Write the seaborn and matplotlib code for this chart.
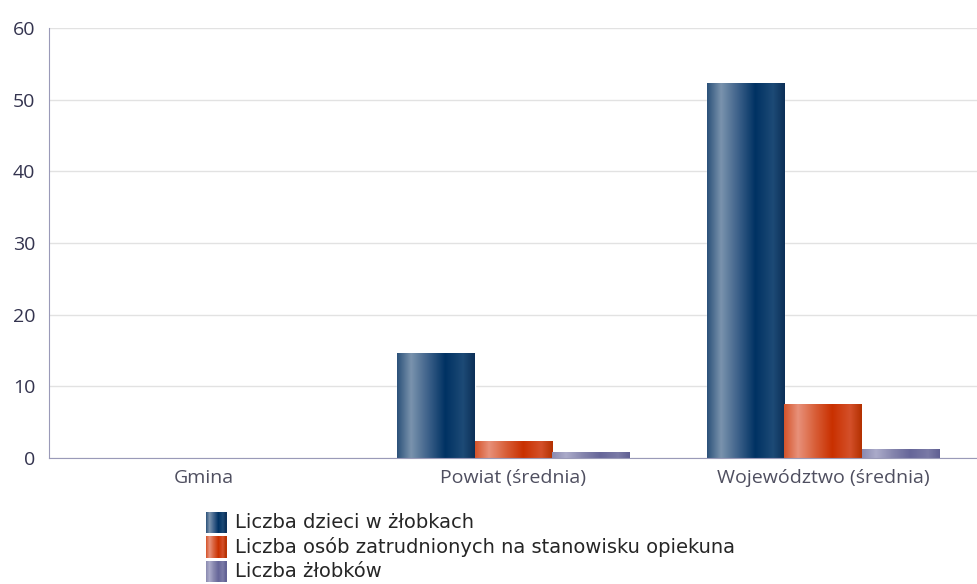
import numpy as np
import pandas as pd
import matplotlib
matplotlib.use('Agg')
import matplotlib.pyplot as plt
from matplotlib.colors import LinearSegmentedColormap
from matplotlib.patches import Rectangle
from matplotlib.legend_handler import HandlerBase
import seaborn as sns

# Data
categories = ['Gmina', 'Powiat (średnia)', 'Województwo (średnia)']
series_names = ['Liczba dzieci w żłobkach',
                'Liczba osób zatrudnionych na stanowisku opiekuna',
                'Liczba żłobków']
dzieci = [0, 14.6, 52.3]
opiekunowie = [0, 2.3, 7.4]
zlobki = [0, 0.7, 1.2]

df = pd.DataFrame({
    'kategoria': categories * 3,
    'seria': [series_names[0]] * 3 + [series_names[1]] * 3 + [series_names[2]] * 3,
    'wartosc': dzieci + opiekunowie + zlobki,
})

# gradient stops for each series (left -> right across the bar)
stops = {
    series_names[0]: ['#2b5179', '#7a93ad', '#3d618a', '#003263', '#1d4a76', '#0b2f57'],
    series_names[1]: ['#d4532a', '#e8917a', '#d85e38', '#c93000', '#d4502a', '#b33000'],
    series_names[2]: ['#8a8ab0', '#ababca', '#8585ad', '#666699', '#7a7aa6', '#5f5f92'],
}
pos = [0.0, 0.18, 0.4, 0.62, 0.85, 1.0]
cmaps = {k: LinearSegmentedColormap.from_list(k, list(zip(pos, v))) for k, v in stops.items()}
base = {k: v[3] for k, v in stops.items()}

sns.set_style('white')
plt.rcParams['font.family'] = ['DejaVu Sans']

fig = plt.figure(figsize=(9.78, 5.84), dpi=100)
ax = fig.add_axes([49 / 978, 126 / 584, 929 / 978, 430 / 584])

sns.barplot(data=df, x='kategoria', y='wartosc', hue='seria', hue_order=series_names,
            palette=base, width=0.75, ax=ax, legend=False, saturation=1)

grad = np.linspace(0, 1, 256).reshape(1, -1)
for name, cont in zip(series_names, ax.containers):
    for p in cont:
        h = p.get_height()
        if h <= 0:
            continue
        x0 = p.get_x()
        w = p.get_width()
        ax.imshow(grad, extent=[x0, x0 + w, 0, h], aspect='auto', cmap=cmaps[name],
                  zorder=p.get_zorder() + 0.1, interpolation='bilinear')

ax.set_xlim(-0.5, 2.5)
ax.set_ylim(0, 60)
ax.set_yticks(range(0, 61, 10))
ax.yaxis.grid(True, color='#e2e2e2', linewidth=1)
ax.set_axisbelow(True)
ax.set_xlabel('')
ax.set_ylabel('')
for s in ['top', 'right']:
    ax.spines[s].set_visible(False)
ax.spines['left'].set_color('#9a9ab8')
ax.spines['bottom'].set_color('#9a9ab8')
ax.tick_params(axis='y', length=0, pad=10, labelsize=14, labelcolor='#34344f')
ax.tick_params(axis='x', length=0, pad=8, labelsize=14, labelcolor='#4f4f60')
for t in ax.get_xticklabels() + ax.get_yticklabels():
    t.set_fontfamily(['Open Sans', 'DejaVu Sans'])
    t.set_fontstretch('normal')


class GradHandler(HandlerBase):
    def __init__(self, cmap):
        super().__init__()
        self.cmap = cmap

    def create_artists(self, legend, orig_handle, xdescent, ydescent, width, height, fontsize, trans):
        n = 20
        arts = []
        for i in range(n):
            r = Rectangle((-xdescent + width * i / n, -ydescent - 2), width / n + 0.3, height + 3,
                          facecolor=self.cmap((i + 0.5) / n), edgecolor='none', transform=trans)
            arts.append(r)
        return arts


handles = [Rectangle((0, 0), 1, 1) for _ in series_names]
leg = fig.legend(handles, series_names, loc='upper left', bbox_to_anchor=(206 / 978, 1 - 513 / 584),
                 frameon=False, fontsize=14, handlelength=1.05, handleheight=1.0, handletextpad=0.45,
                 labelspacing=0.25, borderaxespad=0, borderpad=0,
                 handler_map={h: GradHandler(cmaps[n]) for h, n in zip(handles, series_names)})

fig.savefig('out.png', dpi=100)
